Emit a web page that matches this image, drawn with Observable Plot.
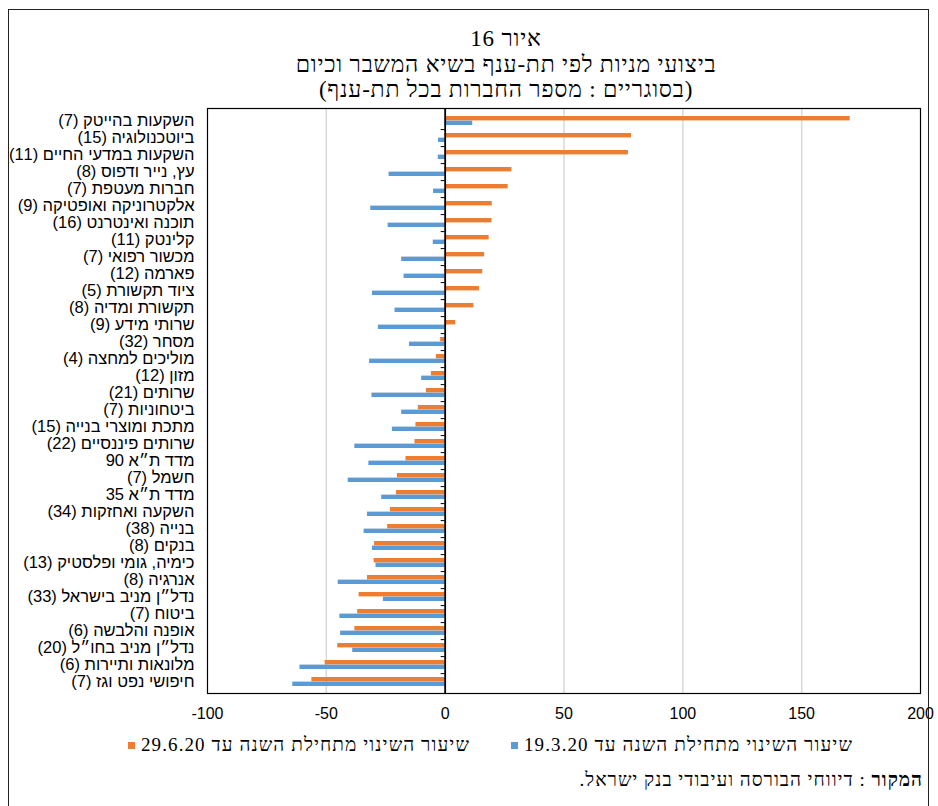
<!DOCTYPE html>
<html lang="he">
<head>
<meta charset="utf-8">
<script src="https://cdn.jsdelivr.net/npm/d3@7"></script>
<script src="https://cdn.jsdelivr.net/npm/@observablehq/plot@0.6"></script>
<style>
  html, body { margin: 0; padding: 0; background: #fff; }
  body { width: 938px; height: 806px; position: relative; overflow: hidden; }
  #box { position: absolute; left: 8px; top: 9px; width: 921px; height: 830px; border: 1.5px solid #222; box-sizing: border-box; z-index: 5; pointer-events: none; }
  .t { position: absolute; left: 156px; width: 700px; text-align: center; direction: rtl; font-family: "Liberation Serif", serif; color: #000; white-space: nowrap; font-size: 23px; letter-spacing: 0.8px; }
  #chart { position: absolute; left: 0; top: 100px; }
  .leg { position: absolute; top: 734px; font-family: "Liberation Serif", serif; font-size: 19px; letter-spacing: 1.1px; white-space: nowrap; display: flex; align-items: center; }
  .sw { width: 7px; height: 7px; display: inline-block; margin-right: 6px; }
  #src { position: absolute; right: 15px; top: 769px; direction: rtl; font-family: "Liberation Serif", serif; font-size: 19px; letter-spacing: 1px; white-space: nowrap; }
</style>
</head>
<body>
<div id="box"></div>
<div class="t" style="top:26px;">איור 16</div>
<div class="t" style="top:52px;">ביצועי מניות לפי תת-ענף בשיא המשבר וכיום</div>
<div class="t" style="top:77px;">(בסוגריים : מספר החברות בכל תת-ענף)</div>
<div id="chart"></div>
<div class="leg" id="legBlue" style="left:511px;"><span class="sw" style="background:#5B9BD5"></span><span id="lb"></span></div>
<div class="leg" id="legOrange" style="left:128px;"><span class="sw" style="background:#ED7D31"></span><span id="lo"></span></div>
<div id="src"><b>המקור</b> : דיווחי הבורסה ועיבודי בנק ישראל.</div>
<script>
const categories = [
  "השקעות בהייטק (7)",
  "ביוטכנולוגיה (15)",
  "השקעות במדעי החיים (11)",
  "עץ, נייר ודפוס (8)",
  "חברות מעטפת (7)",
  "אלקטרוניקה ואופטיקה (9)",
  "תוכנה ואינטרנט (16)",
  "קלינטק (11)",
  "מכשור רפואי (7)",
  "פארמה (12)",
  "ציוד תקשורת (5)",
  "תקשורת ומדיה (8)",
  "שרותי מידע (9)",
  "מסחר (32)",
  "מוליכים למחצה (4)",
  "מזון (12)",
  "שרותים (21)",
  "ביטחוניות (7)",
  "מתכת ומוצרי בנייה (15)",
  "שרותים פיננסיים (22)",
  "מדד ת״א 90",
  "חשמל (7)",
  "מדד ת״א 35",
  "השקעה ואחזקות (34)",
  "בנייה (38)",
  "בנקים (8)",
  "כימיה, גומי ופלסטיק (13)",
  "אנרגיה (8)",
  "נדל״ן מניב בישראל (33)",
  "ביטוח (7)",
  "אופנה והלבשה (6)",
  "נדל״ן מניב בחו״ל (20)",
  "מלונאות ותיירות (6)",
  "חיפושי נפט וגז (7)"
];
// Change from start of year to 19.3.20 (blue)
const changeTo19_3 = [
  11.6, -2.8, -2.9, -23.6, -4.9, -31.3, -24.0, -5.0, -18.3, -17.3, -30.6,
  -21.1, -28.1, -15.0, -31.8, -9.9, -30.8, -18.3, -22.2, -38.0, -32.1, -40.8,
  -26.7, -32.7, -34.1, -30.6, -29.1, -45.0, -26.0, -44.3, -44.0, -38.9, -61.1, -64.1
];
// Change from start of year to 29.6.20 (orange)
const changeTo29_6 = [
  170.4, 78.4, 77.1, 28.1, 26.5, 19.8, 19.7, 18.5, 16.6, 15.8, 14.4,
  12.1, 4.4, -1.9, -3.7, -5.8, -7.9, -11.3, -12.3, -12.7, -16.5, -20.1,
  -20.5, -23.0, -24.2, -29.7, -29.9, -32.7, -36.2, -36.8, -38.0, -45.2, -50.5, -56.1
];
const seriesNames = ["שיעור השינוי מתחילת השנה עד 19.3.20", "שיעור השינוי מתחילת השנה עד 29.6.20"];
const xTicks = [-100, -50, 0, 50, 100, 150, 200];
const gridValues = [-50, 50, 100, 150];

const blueRows = categories.map((c, i) => ({cat: c, value: changeTo19_3[i]}));
const orangeRows = categories.map((c, i) => ({cat: c, value: changeTo29_6[i]}));

const W = 938, H = 630, mT = 8, mB = 37;
const step = (H - mT - mB) / categories.length;
const half = step / 2;
const outer = 4;

const chart = Plot.plot({
  width: W,
  height: H,
  marginLeft: 207,
  marginRight: 18,
  marginTop: mT,
  marginBottom: mB,
  style: {fontFamily: "'Liberation Sans', 'DejaVu Sans', sans-serif", fontSize: "14px", color: "#000", background: "none", overflow: "visible"},
  x: {domain: [-100, 200], label: null},
  y: {domain: categories, padding: 0, label: null},
  marks: [
    Plot.ruleX(gridValues, {stroke: "#d9d9d9", strokeWidth: 1.5}),
    Plot.barX(orangeRows, {x: "value", y: "cat", fill: "#ED7D31", insetTop: outer, insetBottom: half}),
    Plot.barX(blueRows, {x: "value", y: "cat", fill: "#5B9BD5", insetTop: half, insetBottom: outer}),
    Plot.ruleY(categories.slice(0, -1), {y: d => d, x1: 0, x2: 0, insetLeft: -4, dy: half, stroke: "#000", strokeWidth: 1}),
    Plot.ruleX([0], {stroke: "#000", strokeWidth: 1.8}),
    Plot.frame({stroke: "#000", strokeWidth: 1.2}),
    Plot.axisX({ticks: xTicks, tickSize: 0, tickPadding: 14, fontSize: 16, label: null, tickFormat: d => (d < 0 ? "-" : "") + Math.abs(d)}),
    Plot.axisY({tickSize: 0, tickPadding: 13, fontSize: 16.5, label: null, tickFormat: d => "\u200F" + d + "\u200F"})
  ]
});
document.getElementById("chart").append(chart);
document.getElementById("lb").textContent = "\u200F" + seriesNames[0];
document.getElementById("lo").textContent = "\u200F" + seriesNames[1];
document.getElementById("lb").style.direction = "rtl";
document.getElementById("lo").style.direction = "rtl";
</script>
</body>
</html>
